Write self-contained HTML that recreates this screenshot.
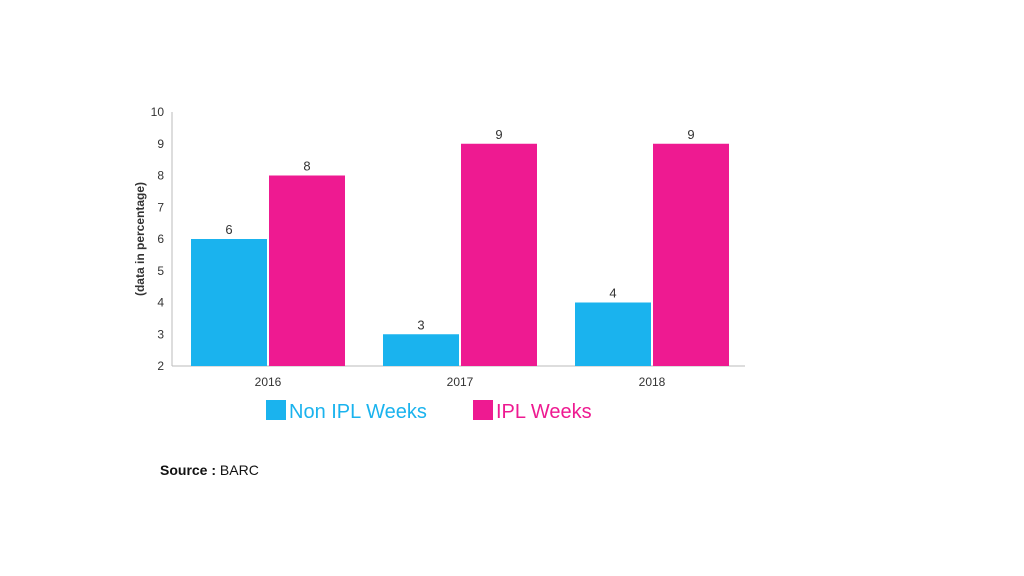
<!DOCTYPE html>
<html><head><meta charset="utf-8"><style>
body{margin:0;width:1024px;height:576px;background:#fff;overflow:hidden;font-family:"Liberation Sans",Arial,sans-serif}
svg{position:absolute;left:0;top:0}
</style></head><body>
<svg id="chart" width="1024" height="576">
<g id="g"></g>
<text transform="translate(144,239) rotate(-90)" text-anchor="middle" font-size="12" font-weight="bold" fill="#333">(data in percentage)</text>
<rect x="266" y="400" width="20" height="20" fill="#1ab3ee"/>
<text x="289" y="418" font-size="20" fill="#1ab3ee">Non IPL Weeks</text>
<rect x="473" y="400" width="20" height="20" fill="#ee1a91"/>
<text x="496" y="418" font-size="20" fill="#ee1a91">IPL Weeks</text>
<text x="160" y="475" font-size="14" fill="#111"><tspan font-weight="bold">Source : </tspan>BARC</text>
</svg>
<script>
const categories=["2016","2017","2018"];
const nonIpl=[6,3,4];
const ipl=[8,9,9];
const yTicks=[2,3,4,5,6,7,8,9,10];
const NS="http://www.w3.org/2000/svg";
const g=document.getElementById('g');
const x0=172,x1=748,yMin=2,yMax=10,yTop=112,yBot=366;
const y=v=>yBot-(v-yMin)/(yMax-yMin)*(yBot-yTop);
const band=(x1-x0)/categories.length;
function mk(t,a){const e=document.createElementNS(NS,t);for(const k in a)e.setAttribute(k,a[k]);g.appendChild(e);return e;}
let ax=mk('line',{x1:x0,y1:yTop,x2:x0,y2:yBot,stroke:'#bbb','stroke-width':1});


let bx=mk('line',{x1:x0,y1:yBot,x2:745,y2:yBot,stroke:'#bbb','stroke-width':1});


yTicks.forEach(t=>{
 const e=mk('text',{x:x0-8,y:y(t)+4,'text-anchor':'end','font-size':12,fill:'#333'});
 e.textContent=t;
 
 
});
const bw=76,gap=2;
categories.forEach((c,i)=>{
 const cx=x0+band*(i+0.5);
 const l=mk('text',{x:cx,y:yBot+20,'text-anchor':'middle','font-size':12,fill:'#333'});
 l.textContent=c;
 
 
 [[nonIpl[i],'#1ab3ee',cx-gap/2-bw,'bar-non-ipl'],[ipl[i],'#ee1a91',cx+gap/2,'bar-ipl']].forEach(([v,col,bx0,nm])=>{
  const r=mk('rect',{x:bx0,y:y(v),width:bw,height:yBot-y(v),fill:col});
  
  
  const t=mk('text',{x:bx0+bw/2,y:y(v)-5,'text-anchor':'middle','font-size':13,fill:'#333'});
  t.textContent=v;
  
  
 });
});
</script>
</body></html>
